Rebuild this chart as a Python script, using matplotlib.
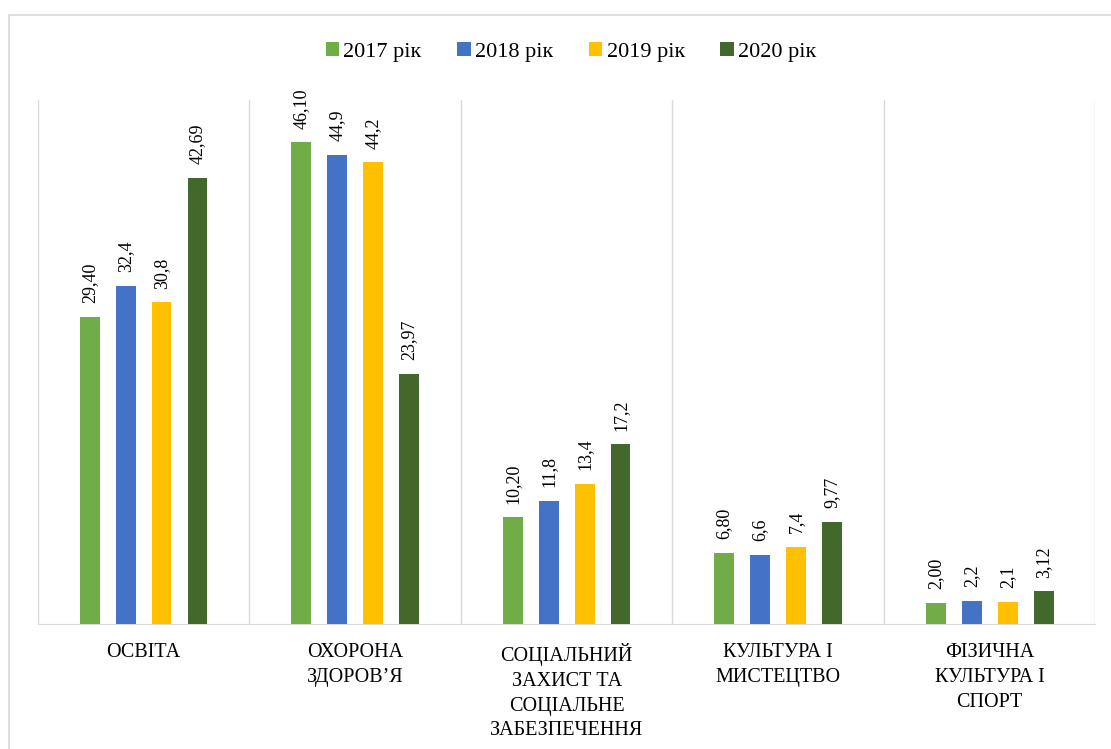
import matplotlib.pyplot as plt
import numpy as np
from matplotlib.patches import Rectangle

# Data
categories = ['ОСВІТА', 'ОХОРОНА\nЗДОРОВ’Я', 'СОЦІАЛЬНИЙ\nЗАХИСТ ТА\nСОЦІАЛЬНЕ\nЗАБЕЗПЕЧЕННЯ',
              'КУЛЬТУРА І\nМИСТЕЦТВО', 'ФІЗИЧНА\nКУЛЬТУРА І\nСПОРТ']
years = ['2017 рік', '2018 рік', '2019 рік', '2020 рік']
v2017 = [29.40, 46.10, 10.20, 6.80, 2.00]
v2018 = [32.4, 44.9, 11.8, 6.6, 2.2]
v2019 = [30.8, 44.2, 13.4, 7.4, 2.1]
v2020 = [42.69, 23.97, 17.2, 9.77, 3.12]
lab2017 = ['29,40', '46,10', '10,20', '6,80', '2,00']
lab2018 = ['32,4', '44,9', '11,8', '6,6', '2,2']
lab2019 = ['30,8', '44,2', '13,4', '7,4', '2,1']
lab2020 = ['42,69', '23,97', '17,2', '9,77', '3,12']

colors = ['#70AD47', '#4472C4', '#FFC000', '#43682B']
series = [v2017, v2018, v2019, v2020]
labels = [lab2017, lab2018, lab2019, lab2020]

plt.rcParams['font.family'] = ['Liberation Serif', 'DejaVu Serif']

fig = plt.figure(figsize=(11.11, 7.49), dpi=100)
fig.patches.append(Rectangle((0.008, -0.01), 1.1, 0.99, transform=fig.transFigure,
                             fill=False, edgecolor='#d9d9d9', linewidth=1.2))
ax = fig.add_axes([0.034, 0.167, 0.952, 0.70])

x = np.arange(len(categories))
width = 0.094
step = 0.17
for i, (vals, labs) in enumerate(zip(series, labels)):
    pos = x + (i - 1.5) * step
    ax.bar(pos, vals, width=width, color=colors[i], label=years[i], zorder=3)
    for p, v, t in zip(pos, vals, labs):
        ax.text(p, v + 1.3, t, rotation=90, ha='center', va='bottom', fontsize=13)

ax.set_xlim(-0.5, len(categories) - 0.5)
ax.set_ylim(0, 50.2)
for s in range(len(categories) + 1):
    ax.axvline(s - 0.5, color='#d9d9d9', linewidth=1, zorder=1)
for sp in ['top', 'right', 'left']:
    ax.spines[sp].set_visible(False)
ax.spines['bottom'].set_color('#d9d9d9')
ax.set_yticks([])
ax.set_xticks(x)
ax.set_xticklabels(categories, fontsize=14.5, linespacing=1.4, va='top')
ax.tick_params(axis='x', length=0, pad=14)

leg = fig.legend(loc='center', bbox_to_anchor=(0.514, 0.931), ncol=4, frameon=False,
                 fontsize=16, handlelength=0.6, handleheight=0.6, handletextpad=0.2,
                 columnspacing=1.6)

fig.savefig('out.png', dpi=100)
